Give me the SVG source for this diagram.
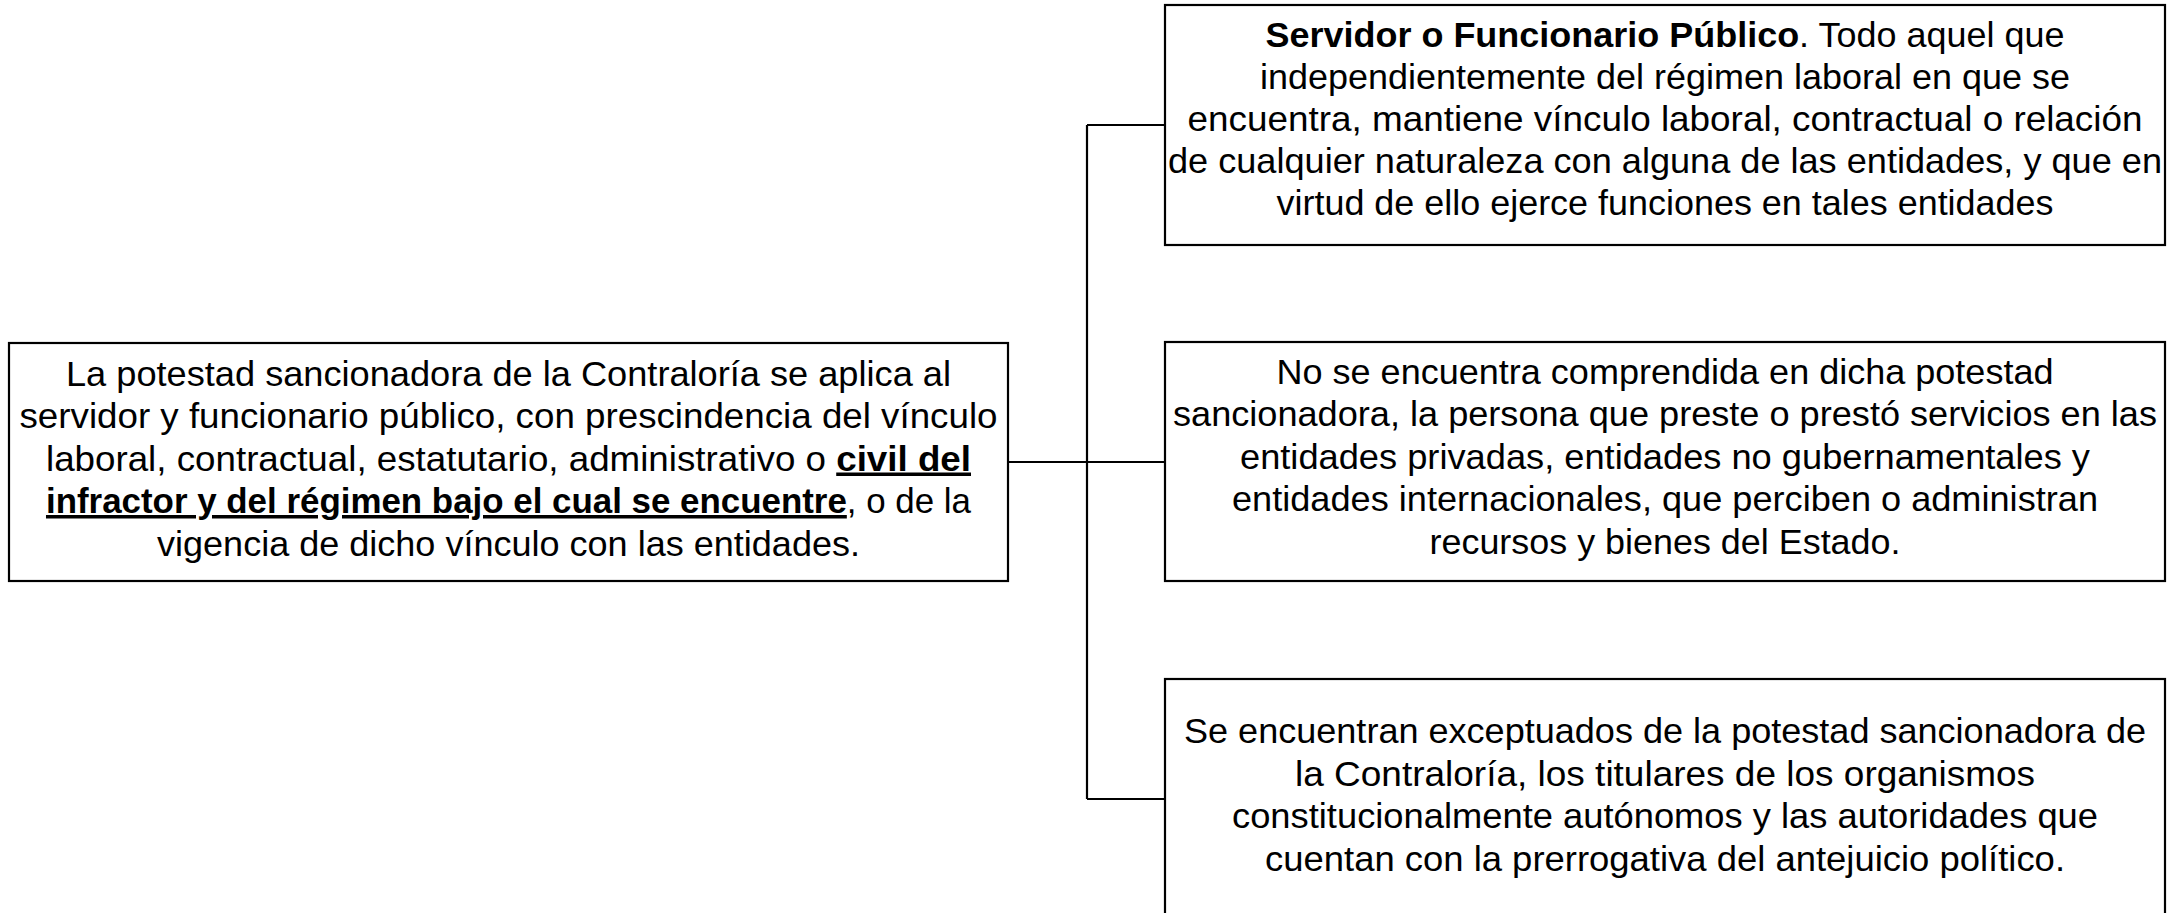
<svg xmlns="http://www.w3.org/2000/svg" width="2175" height="913" viewBox="0 0 2175 913">
<style>
.box{fill:#fff;stroke:#000;stroke-width:2.2}
.t{font-family:"Liberation Sans",Arial,sans-serif;font-size:35px;fill:#000;text-anchor:middle}
.b{font-weight:bold}
.u{text-decoration:underline}
.c{fill:none;stroke:#000;stroke-width:2.2}
</style>
<rect width="2175" height="913" fill="#fff"/>
<g id="connectors">
<path class="c" d="M1008 462H1166M1087 125V799M1087 125H1166M1087 799H1166"/>
</g>
<g id="root">
<rect class="box" x="9" y="343" width="999" height="238"/>
<text class="t" x="508.5" y="385.5" textLength="885" lengthAdjust="spacingAndGlyphs">La potestad sancionadora de la Contraloría se aplica al</text>
<text class="t" x="508.5" y="428" textLength="978" lengthAdjust="spacingAndGlyphs">servidor y funcionario público, con prescindencia del vínculo</text>
<text class="t" x="508.5" y="470.5" textLength="925" lengthAdjust="spacingAndGlyphs">laboral, contractual, estatutario, administrativo o <tspan class="b u">civil del</tspan></text>
<text class="t" x="508.5" y="513" textLength="925" lengthAdjust="spacingAndGlyphs"><tspan class="b u">infractor y del régimen bajo el cual se encuentre</tspan>, o de la</text>
<text class="t" x="508.5" y="555.5" textLength="703" lengthAdjust="spacingAndGlyphs">vigencia de dicho vínculo con las entidades.</text>
</g>
<g id="servidor">
<rect class="box" x="1165" y="5" width="1000" height="240"/>
<text class="t" x="1665" y="47" textLength="799" lengthAdjust="spacingAndGlyphs"><tspan class="b">Servidor o Funcionario Público</tspan>. Todo aquel que</text>
<text class="t" x="1665" y="89" textLength="810" lengthAdjust="spacingAndGlyphs">independientemente del régimen laboral en que se</text>
<text class="t" x="1665" y="131" textLength="955" lengthAdjust="spacingAndGlyphs">encuentra, mantiene vínculo laboral, contractual o relación</text>
<text class="t" x="1665" y="173" textLength="994" lengthAdjust="spacingAndGlyphs">de cualquier naturaleza con alguna de las entidades, y que en</text>
<text class="t" x="1665" y="215" textLength="777" lengthAdjust="spacingAndGlyphs">virtud de ello ejerce funciones en tales entidades</text>
</g>
<g id="no-comprendida">
<rect class="box" x="1165" y="342" width="1000" height="239"/>
<text class="t" x="1665" y="383.5" textLength="777" lengthAdjust="spacingAndGlyphs">No se encuentra comprendida en dicha potestad</text>
<text class="t" x="1665" y="426" textLength="984" lengthAdjust="spacingAndGlyphs">sancionadora, la persona que preste o prestó servicios en las</text>
<text class="t" x="1665" y="468.5" textLength="850" lengthAdjust="spacingAndGlyphs">entidades privadas, entidades no gubernamentales y</text>
<text class="t" x="1665" y="511" textLength="866" lengthAdjust="spacingAndGlyphs">entidades internacionales, que perciben o administran</text>
<text class="t" x="1665" y="553.5" textLength="471" lengthAdjust="spacingAndGlyphs">recursos y bienes del Estado.</text>
</g>
<g id="exceptuados">
<rect class="box" x="1165" y="679" width="1000" height="250"/>
<text class="t" x="1665" y="743" textLength="962" lengthAdjust="spacingAndGlyphs">Se encuentran exceptuados de la potestad sancionadora de</text>
<text class="t" x="1665" y="785.5" textLength="740" lengthAdjust="spacingAndGlyphs">la Contraloría, los titulares de los organismos</text>
<text class="t" x="1665" y="828" textLength="866" lengthAdjust="spacingAndGlyphs">constitucionalmente autónomos y las autoridades que</text>
<text class="t" x="1665" y="870.5" textLength="800" lengthAdjust="spacingAndGlyphs">cuentan con la prerrogativa del antejuicio político.</text>
</g>
</svg>
